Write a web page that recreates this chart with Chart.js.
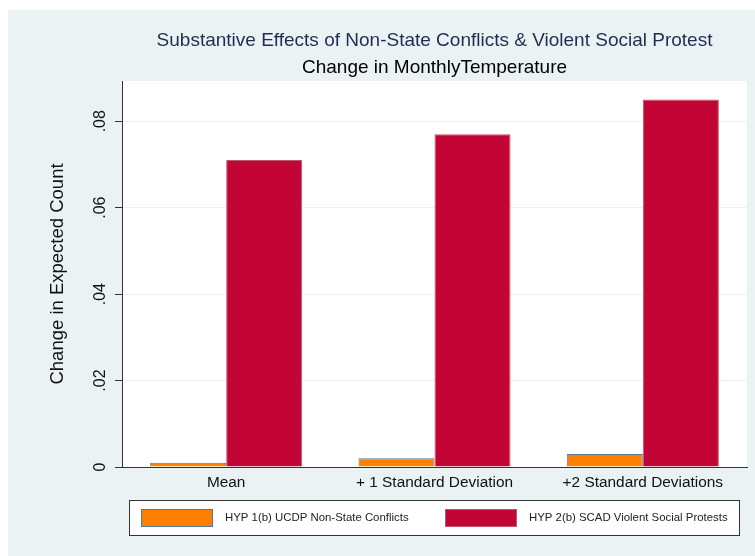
<!DOCTYPE html>
<html>
<head>
<meta charset="utf-8">
<title>Substantive Effects of Non-State Conflicts &amp; Violent Social Protest</title>
<script src="https://cdn.jsdelivr.net/npm/chart.js@4.4.1/dist/chart.umd.min.js"></script>
<style>
  html, body { margin: 0; padding: 0; background: #fff; }
  #wrap { position: absolute; left: 8px; top: 10px; width: 747px; height: 546px; }
</style>
</head>
<body>
<div id="wrap"><canvas id="effects" width="747" height="546"></canvas></div>
<script>
// change in expected count, by temperature scenario
const categories = ['Mean', '+ 1 Standard Deviation', '+2 Standard Deviations'];
const ucdpNonState = [0.001, 0.002, 0.003];
const scadProtests = [0.071, 0.077, 0.085];
const seriesNames = ['HYP 1(b) UCDP Non-State Conflicts', 'HYP 2(b) SCAD Violent Social Protests'];
const yTicks = [0, 0.02, 0.04, 0.06, 0.08];
const yMax = 0.0893;

const FONT = '"Liberation Sans", Arial, sans-serif';
Chart.defaults.font.family = FONT;
Chart.defaults.color = '#111';

// light bluish-gray surround, white plot region
const backdrop = {
  id: 'backdrop',
  beforeDraw(chart) {
    const { ctx, chartArea: a } = chart;
    ctx.save();
    ctx.fillStyle = '#eaf2f3';
    ctx.fillRect(0, 0, chart.width, chart.height);
    ctx.fillStyle = '#fff';
    ctx.fillRect(a.left, a.top, a.right - a.left, a.bottom - a.top);
    ctx.restore();
  }
};

// boxed legend under the axis labels
const boxLegend = {
  id: 'boxLegend',
  afterDraw(chart) {
    const { ctx, chartArea: a } = chart;
    const top = a.bottom + 33, h = 36;
    const left = a.left + 7, right = a.right - 7;
    const sw = 72, sh = 18, gap = 12, spacing = 36;
    ctx.save();
    ctx.fillStyle = '#fff';
    ctx.fillRect(left, top, right - left, h);
    ctx.strokeStyle = '#333';
    ctx.lineWidth = 1;
    ctx.strokeRect(left + 0.5, top + 0.5, right - left - 1, h - 1);
    ctx.font = '11.4px ' + FONT;
    ctx.textBaseline = 'middle';
    const items = chart.data.datasets.map(ds => ({ ds, w: sw + gap + ctx.measureText(ds.label).width }));
    const total = items.reduce((s, it) => s + it.w, 0) + spacing * (items.length - 1);
    let x = Math.round((left + right) / 2 - total / 2);
    const cy = top + h / 2;
    items.forEach(({ ds, w }) => {
      ctx.fillStyle = ds.backgroundColor;
      ctx.fillRect(x, cy - sh / 2, sw, sh);
      ctx.strokeStyle = ds.borderColor;
      ctx.strokeRect(x + 0.5, cy - sh / 2 + 0.5, sw - 1, sh - 1);
      ctx.fillStyle = '#222';
      ctx.fillText(ds.label, x + sw + gap, cy);
      x = Math.round(x + w + spacing);
    });
    ctx.restore();
  }
};

new Chart(document.getElementById('effects'), {
  type: 'bar',
  data: {
    labels: categories,
    datasets: [{
      label: seriesNames[0],
      data: ucdpNonState,
      backgroundColor: '#ff8000',
      borderColor: '#56789a',
      borderWidth: 1,
      categoryPercentage: 0.73,
      barPercentage: 1
    }, {
      label: seriesNames[1],
      data: scadProtests,
      backgroundColor: '#c20535',
      borderColor: '#c0566a',
      borderWidth: 1,
      categoryPercentage: 0.73,
      barPercentage: 1
    }]
  },
  options: {
    responsive: false,
    animation: false,
    layout: { padding: { left: 0, right: 8, top: 0, bottom: 56 } },
    plugins: {
      legend: { display: false },
      title: {
        display: true,
        text: 'Substantive Effects of Non-State Conflicts & Violent Social Protest',
        fullSize: false,
        color: '#1f2d52',
        font: { size: 19, weight: 'normal' },
        padding: { top: 19.6, bottom: 0 }
      },
      subtitle: {
        display: true,
        text: 'Change in MonthlyTemperature',
        fullSize: false,
        color: '#000',
        font: { size: 19 },
        padding: { top: 4.2, bottom: 1.6 }
      }
    },
    scales: {
      x: {
        afterFit: s => { s.height = 33; },
        grid: { display: false, drawTicks: false },
        border: { color: '#333' },
        ticks: { padding: 7, maxRotation: 0, font: { size: 15.4 }, color: '#111' }
      },
      y: {
        min: 0,
        max: yMax,
        afterFit: s => { s.width = 114; },
        afterBuildTicks: s => { s.ticks = yTicks.map(v => ({ value: v })); },
        grid: { color: '#eaf2f3', tickColor: '#333', tickLength: 7 },
        border: { color: '#333' },
        ticks: {
          minRotation: 90,
          maxRotation: 90,
          crossAlign: 'center',
          padding: 3,
          font: { size: 16 },
          color: '#111',
          callback: v => v === 0 ? '0' : v.toFixed(2).replace(/^0/, '')
        },
        title: {
          display: true,
          text: 'Change in Expected Count',
          font: { size: 18.5 },
          color: '#111',
          padding: { top: 38.9, bottom: 0 }
        }
      }
    }
  },
  plugins: [backdrop, boxLegend]
});
</script>
</body>
</html>
